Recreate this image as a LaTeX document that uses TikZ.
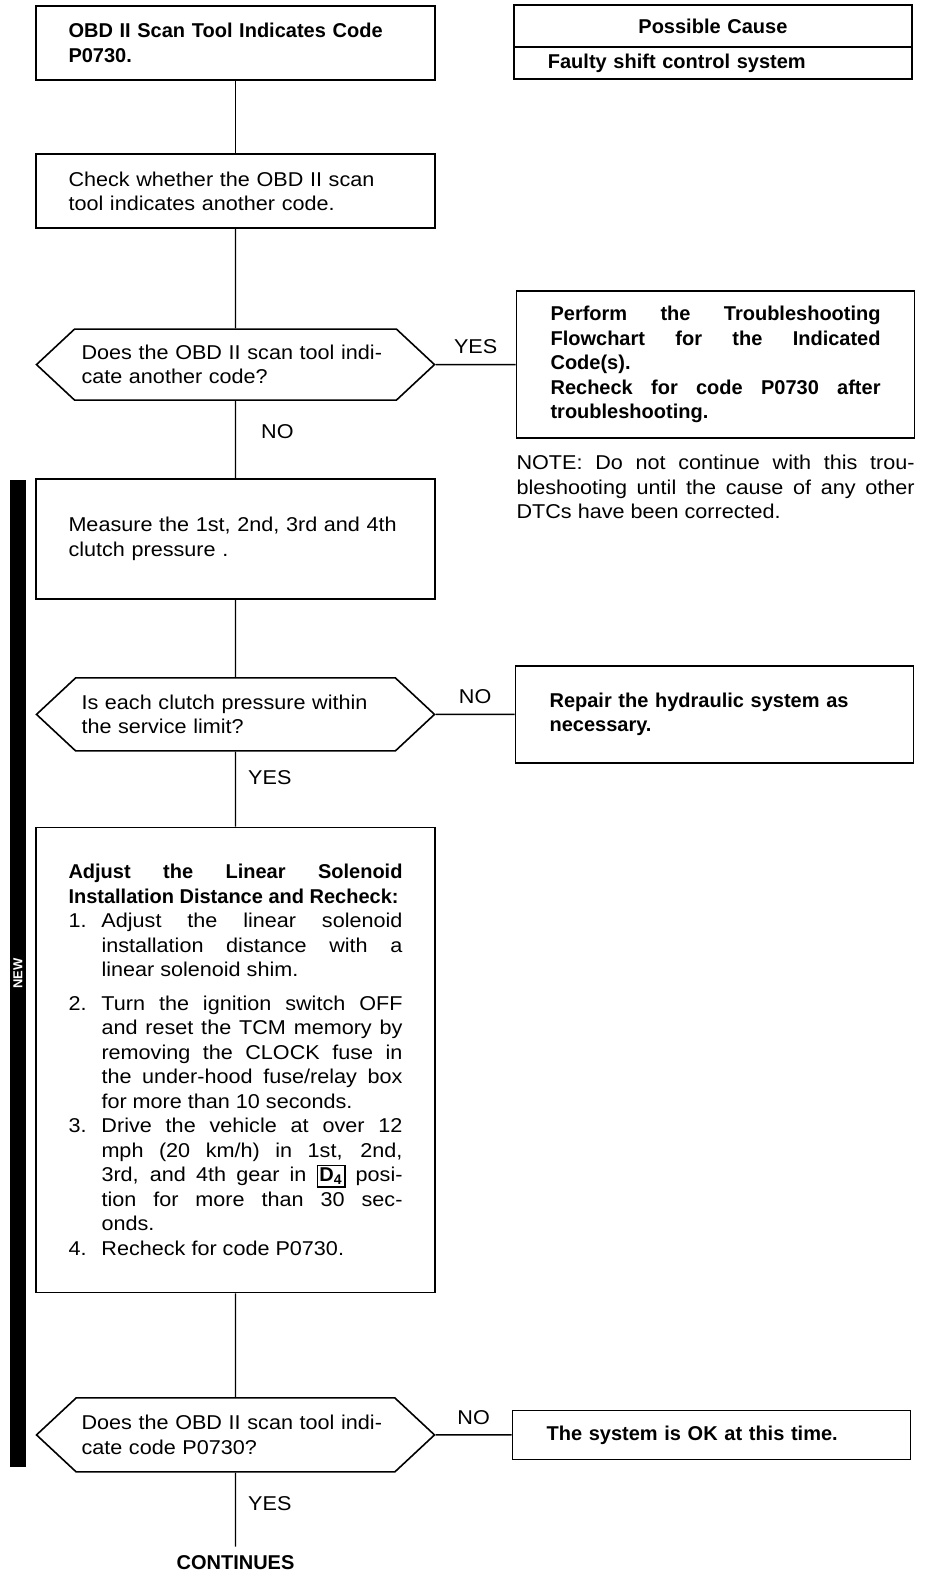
\documentclass[tikz,border=0pt]{standalone}
\usepackage{fontspec}
\setmainfont{Liberation Sans}[UprightFeatures={FakeStretch=1.08}]
\usetikzlibrary{positioning,shapes.symbols}
\setlength{\parindent}{0pt}
\hyphenpenalty=10000
\newcommand\chartfont{\fontsize{10}{12.25}\selectfont}
\newcommand\stepitem[1]{\par\hangindent=16.5pt\hangafter=1\noindent\makebox[16.5pt][l]{#1}}
\newcommand\gearbox[1]{{\fboxsep=0.8pt\fboxrule=0.6pt\fbox{\textbf{#1}}}}

\begin{document}
\begin{tikzpicture}[
    font=\chartfont,
    stepbox/.style  = {rectangle, draw, line width=0.9pt, minimum width=199.5pt,
                       text width=167pt, inner xsep=16.25pt, inner ysep=3pt, align=left},
    sidebox/.style  = {stepbox, minimum width=199pt, text width=165pt,
                       inner xsep=17pt, font=\chartfont\bfseries},
    decision/.style = {signal, signal to=west and east, signal pointer angle=86, draw,
                       line width=0.8pt, minimum width=199pt, text width=154pt,
                       inner xsep=2pt, inner ysep=2pt, align=left},
    flow/.style     = {line width=0.7pt},
    hlabel/.style   = {inner sep=3.5pt, above=1.5pt},
    vlabel/.style   = {inner sep=3.5pt},
    bar/.style      = {fill=black, text=white, minimum width=493.5pt, minimum height=8pt,
                       inner sep=0pt, font=\fontsize{6.5}{7}\selectfont\bfseries}
]
\useasboundingbox (0,0) rectangle (464pt,-786pt);

% --- Main column --------------------------------------------------------------
\node[stepbox, font=\chartfont\bfseries, minimum height=37pt] (obd) at (117.75pt,-21.5pt)
  {OBD II Scan Tool Indicates Code\\ P0730.};

\node[stepbox, minimum height=37pt, below=36.2pt of obd] (check)
  {Check whether the OBD II scan\\ tool indicates another code.};

\node[decision, minimum height=35.5pt, below=49.6pt of check] (anothercode)
  {Does the OBD II scan tool indi-\\ cate another code?};

\node[stepbox, minimum height=60pt, below=38.6pt of anothercode] (measure)
  {Measure the 1st, 2nd, 3rd and 4th\\ clutch pressure .};

\node[decision, minimum height=36.5pt, below=38.6pt of measure] (pressure)
  {Is each clutch pressure within\\ the service limit?};

\node[stepbox, minimum height=232.5pt, align=justify, below=37.4pt of pressure] (adjust)
  {\textbf{Adjust the Linear Solenoid\linebreak Installation Distance and Recheck:}
   \stepitem{1.}Adjust the linear solenoid\linebreak installation distance with a\linebreak
   linear solenoid shim.
   \par\vspace{4.5pt}
   \stepitem{2.}Turn the ignition switch OFF\linebreak and reset the TCM memory by\linebreak
   removing the CLOCK fuse in\linebreak the under-hood fuse/relay box\linebreak
   for more than 10 seconds.
   \stepitem{3.}Drive the vehicle at over 12\linebreak mph (20 km/h) in 1st, 2nd,\linebreak
   3rd, and 4th gear in \gearbox{D\textsubscript{4}} posi-\linebreak
   tion for more than 30 sec-\linebreak onds.
   \stepitem{4.}Recheck for code P0730.};

\node[decision, minimum height=37pt, below=51.9pt of adjust] (recheck)
  {Does the OBD II scan tool indi-\\ cate code P0730?};

\node[font=\chartfont\bfseries, inner sep=4pt, below=37pt of recheck] (continues)
  {CONTINUES};

% --- Right column -------------------------------------------------------------
\node[sidebox, minimum height=21pt, align=center, outer sep=0pt,
      right=39pt of obd.north east, anchor=north west] (causehead) {Possible Cause};
\node[sidebox, minimum height=16pt, outer sep=0pt, below=0pt of causehead] (cause)
  {Faulty shift control system};

\node[sidebox, minimum height=73.5pt, align=justify, right=40pt of anothercode] (perform)
  {Perform the Troubleshooting\linebreak Flowchart for the Indicated\linebreak
   Code(s).\\ Recheck for code P0730 after\linebreak troubleshooting.};

\node[inner sep=0pt, text width=199pt, align=justify, below=8pt of perform] (note)
  {NOTE: Do not continue with this trou-\linebreak bleshooting until the cause of
   any other\linebreak DTCs have been corrected.};

\node[sidebox, minimum height=48.5pt, right=39.5pt of pressure] (repair)
  {Repair the hydraulic system as\\ necessary.};

\node[sidebox, minimum height=24.5pt, right=38pt of recheck] (okbox)
  {The system is OK at this time.};

% --- Margin bar ---------------------------------------------------------------
\node[bar, rotate=90] (newbar) at (9pt,-486.75pt) {NEW};

% --- Flows --------------------------------------------------------------------
\draw[flow] (obd)         -- (check);
\draw[flow] (check)       -- (anothercode);
\draw[flow] (anothercode) -- node[vlabel, right=9pt, pos=0.4] {NO} (measure);
\draw[flow] (anothercode) -- node[hlabel] {YES} (perform);
\draw[flow] (measure)     -- (pressure);
\draw[flow] (pressure)    -- node[hlabel] {NO} (repair);
\draw[flow] (pressure)    -- node[vlabel, right=2.5pt, pos=0.35] {YES} (adjust);
\draw[flow] (adjust)      -- (recheck);
\draw[flow] (recheck)     -- node[hlabel] {NO} (okbox);
\draw[flow] (recheck)     -- node[vlabel, right=2.5pt, pos=0.42] {YES} (continues);

\end{tikzpicture}
\end{document}
